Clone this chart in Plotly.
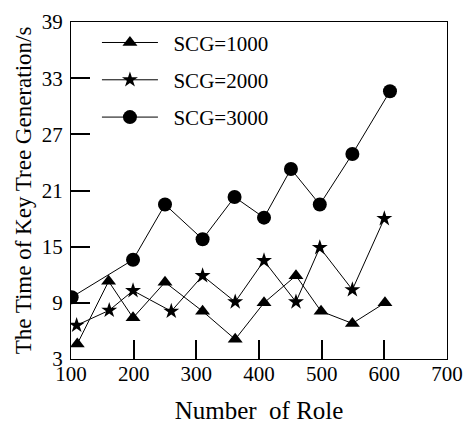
import plotly.graph_objects as go

# Data
x_scg1000 = [110, 160, 199, 250, 310, 362, 408, 459, 499, 549, 601]
y_scg1000 = [4.6, 11.3, 7.4, 11.2, 8.1, 5.1, 9.0, 11.9, 8.1, 6.8, 9.0]

x_scg2000 = [109, 161, 199, 260, 310, 362, 408, 459, 497, 549, 600]
y_scg2000 = [6.6, 8.2, 10.3, 8.1, 11.9, 9.1, 13.5, 9.1, 14.9, 10.4, 18.0]

x_scg3000 = [101, 199, 250, 310, 361, 408, 451, 497, 549, 609]
y_scg3000 = [9.6, 13.6, 19.5, 15.8, 20.3, 18.1, 23.3, 19.5, 24.9, 31.6]

x_ticks = [100, 200, 300, 400, 500, 600, 700]
y_ticks = [3, 9, 15, 21, 27, 33, 39]

FONT = "Liberation Serif, Times New Roman, serif"
LEAD = "\u200b\u00a0\u00a0"   # small gap between legend symbol and text

fig = go.Figure()
series = [
    ("SCG=1000", x_scg1000, y_scg1000, "triangle-up", 13),
    ("SCG=2000", x_scg2000, y_scg2000, "star", 12),
    ("SCG=3000", x_scg3000, y_scg3000, "circle", 14),
]
for i, (name, xs, ys, sym, sz) in enumerate(series):
    fig.add_trace(go.Scatter(
        x=xs, y=ys, name=LEAD + name, mode="lines+markers",
        line=dict(color="black", width=1),
        marker=dict(symbol=sym, size=sz, color="black"),
        legendgroup=f"g{i}",
    ))

fig.update_layout(
    template="none",
    width=468, height=424,
    margin=dict(l=71, r=21, t=22, b=65),
    paper_bgcolor="white", plot_bgcolor="white",
    font=dict(family=FONT, size=21, color="black"),
    legend=dict(x=0.069, y=0.999, xanchor="left", yanchor="top",
                bgcolor="rgba(0,0,0,0)", borderwidth=0,
                traceorder="grouped", tracegroupgap=7, itemwidth=56),
    showlegend=True,
)
fig.update_xaxes(range=[100, 700], tickvals=x_ticks,
                 ticks="inside", ticklen=19, tickwidth=1.5, tickcolor="black",
                 showline=True, mirror=True, linecolor="black",
                 showgrid=False, automargin=False, ticklabelstandoff=-4,
                 title=dict(text="Number\u00a0 of Role", standoff=23))
fig.update_yaxes(range=[3, 39], tickvals=y_ticks,
                 ticks="inside", ticklen=19, tickwidth=1.5, tickcolor="black",
                 showline=True, mirror=True, linecolor="black",
                 showgrid=False, automargin=False, ticklabelstandoff=3,
                 title=dict(text="The Time of Key Tree Generation/s", font=dict(size=23), standoff=3))

# remove the default 8px page margin so the 468x424 figure fills the window exactly
fig.write_html("out.html", config={"displayModeBar": False},
               post_script="document.body.style.margin='0';document.documentElement.style.overflow='hidden';")
